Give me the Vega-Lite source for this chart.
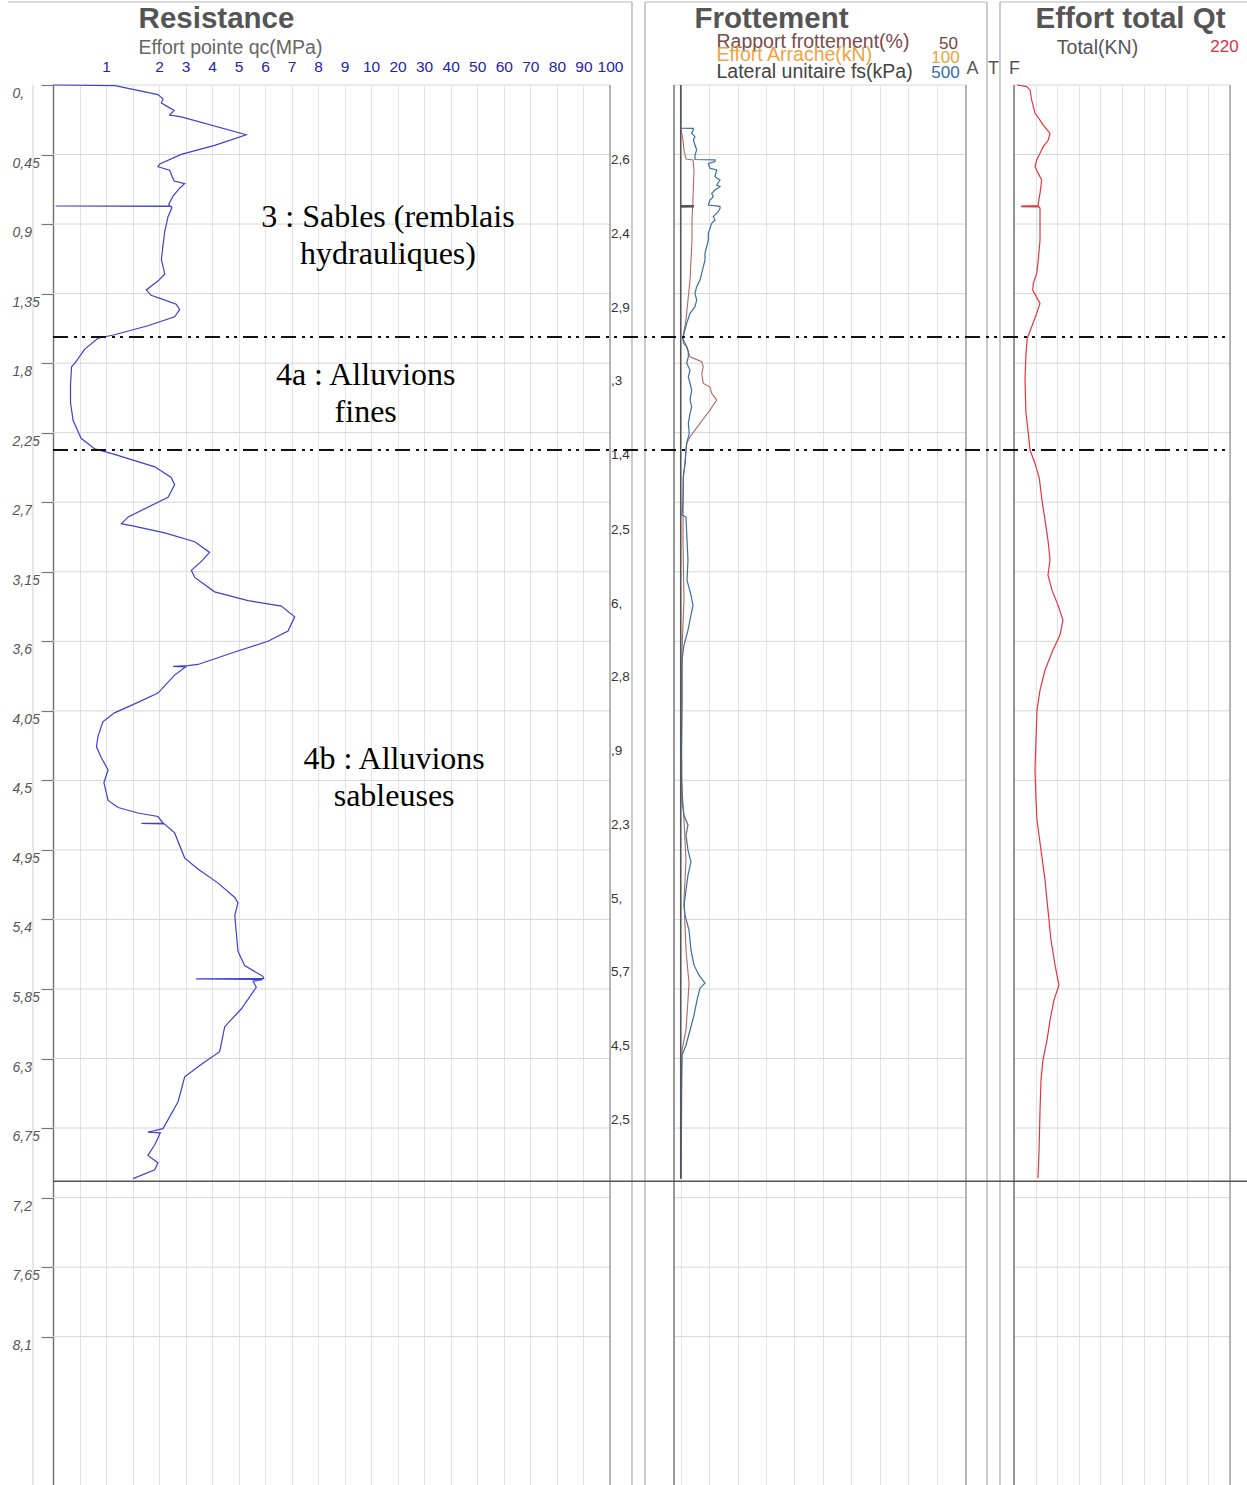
{
  "$schema": "https://vega.github.io/schema/vega-lite/v6.json",
  "width": 1194,
  "height": 1400,
  "autosize": {"type": "none"},
  "padding": {"left": 53, "top": 85, "right": 0, "bottom": 0},
  "background": "white",
  "config": {
    "view": {"stroke": null},
    "font": "Liberation Sans",
    "axis": {"labelFont": "Liberation Sans", "titleFont": "Liberation Sans"},
    "text": {"font": "Liberation Sans"}
  },
  "datasets": {
    "depthgrid": [
      {"depth": 0}, {"depth": 0.45}, {"depth": 0.9}, {"depth": 1.35}, {"depth": 1.8}, {"depth": 2.25}, {"depth": 2.7}, {"depth": 3.15}, {"depth": 3.6}, {"depth": 4.05}, {"depth": 4.5}, {"depth": 4.95}, {"depth": 5.4}, {"depth": 5.85}, {"depth": 6.3}, {"depth": 6.75}, {"depth": 7.2}, {"depth": 7.65}, {"depth": 8.1}
    ],
    "qc": [
      {"depth":0,"qc":0},{"depth":0.004,"qc":1.17},{"depth":0.062,"qc":1.98},{"depth":0.09,"qc":2.15},{"depth":0.117,"qc":2.09},{"depth":0.148,"qc":2.4},{"depth":0.164,"qc":2.57},{"depth":0.194,"qc":2.4},{"depth":0.206,"qc":2.84},{"depth":0.322,"qc":5.29},{"depth":0.391,"qc":4.1},{"depth":0.449,"qc":2.84},{"depth":0.511,"qc":2.03},{"depth":0.529,"qc":1.98},{"depth":0.552,"qc":2.4},{"depth":0.621,"qc":2.57},{"depth":0.638,"qc":2.97},{"depth":0.668,"qc":2.78},{"depth":0.719,"qc":2.53},{"depth":0.772,"qc":2.37},{"depth":0.782,"qc":2.4},{"depth":0.783,"qc":0.05},{"depth":0.786,"qc":2.45},{"depth":0.795,"qc":2.49},{"depth":0.852,"qc":2.34},{"depth":0.945,"qc":2.22},{"depth":1.038,"qc":2.15},{"depth":1.13,"qc":2.09},{"depth":1.223,"qc":2.22},{"depth":1.269,"qc":1.98},{"depth":1.326,"qc":1.76},{"depth":1.361,"qc":1.85},{"depth":1.384,"qc":2.09},{"depth":1.419,"qc":2.65},{"depth":1.454,"qc":2.78},{"depth":1.5,"qc":2.59},{"depth":1.558,"qc":1.79},{"depth":1.616,"qc":1.16},{"depth":1.639,"qc":0.85},{"depth":1.709,"qc":0.6},{"depth":1.801,"qc":0.41},{"depth":1.824,"qc":0.35},{"depth":1.939,"qc":0.33},{"depth":2.055,"qc":0.33},{"depth":2.171,"qc":0.38},{"depth":2.286,"qc":0.53},{"depth":2.355,"qc":0.79},{"depth":2.39,"qc":1.16},{"depth":2.471,"qc":1.92},{"depth":2.54,"qc":2.46},{"depth":2.587,"qc":2.59},{"depth":2.668,"qc":2.34},{"depth":2.795,"qc":1.42},{"depth":2.84,"qc":1.29},{"depth":2.852,"qc":1.48},{"depth":2.898,"qc":2.22},{"depth":2.956,"qc":3.35},{"depth":3.025,"qc":3.91},{"depth":3.083,"qc":3.6},{"depth":3.141,"qc":3.22},{"depth":3.187,"qc":3.35},{"depth":3.28,"qc":4.1},{"depth":3.337,"qc":5.36},{"depth":3.372,"qc":6.62},{"depth":3.442,"qc":7.12},{"depth":3.534,"qc":6.87},{"depth":3.6,"qc":6.11},{"depth":3.669,"qc":4.86},{"depth":3.75,"qc":3.47},{"depth":3.758,"qc":3.1},{"depth":3.762,"qc":2.53},{"depth":3.766,"qc":3.0},{"depth":3.819,"qc":2.59},{"depth":3.935,"qc":1.98},{"depth":4.005,"qc":1.54},{"depth":4.063,"qc":1.16},{"depth":4.121,"qc":0.94},{"depth":4.214,"qc":0.85},{"depth":4.283,"qc":0.82},{"depth":4.352,"qc":0.91},{"depth":4.433,"qc":1.04},{"depth":4.514,"qc":0.96},{"depth":4.63,"qc":1.04},{"depth":4.676,"qc":1.23},{"depth":4.711,"qc":1.6},{"depth":4.734,"qc":1.98},{"depth":4.776,"qc":2.15},{"depth":4.778,"qc":1.67},{"depth":4.781,"qc":2.2},{"depth":4.84,"qc":2.59},{"depth":5.003,"qc":2.97},{"depth":5.073,"qc":3.47},{"depth":5.165,"qc":4.23},{"depth":5.258,"qc":4.86},{"depth":5.293,"qc":4.98},{"depth":5.374,"qc":4.86},{"depth":5.606,"qc":4.98},{"depth":5.699,"qc":5.23},{"depth":5.768,"qc":5.92},{"depth":5.783,"qc":5.95},{"depth":5.785,"qc":3.4},{"depth":5.789,"qc":5.9},{"depth":5.8,"qc":5.55},{"depth":5.839,"qc":5.67},{"depth":5.978,"qc":5.11},{"depth":6.094,"qc":4.48},{"depth":6.256,"qc":4.29},{"depth":6.337,"qc":3.6},{"depth":6.418,"qc":2.97},{"depth":6.58,"qc":2.72},{"depth":6.754,"qc":2.15},{"depth":6.777,"qc":1.79},{"depth":6.781,"qc":2.05},{"depth":6.858,"qc":1.92},{"depth":6.927,"qc":1.79},{"depth":6.974,"qc":1.98},{"depth":7.02,"qc":1.92},{"depth":7.077,"qc":1.51}
    ],
    "fs": [
      {"depth":0,"fs":0},{"depth":0.279,"fs":0},{"depth":0.281,"fs":22.2},{"depth":0.291,"fs":22.2},{"depth":0.313,"fs":19.3},{"depth":0.334,"fs":25.1},{"depth":0.356,"fs":22.2},{"depth":0.388,"fs":25.1},{"depth":0.421,"fs":28.1},{"depth":0.453,"fs":25.1},{"depth":0.482,"fs":25.1},{"depth":0.484,"fs":60.3},{"depth":0.496,"fs":60.3},{"depth":0.507,"fs":48.6},{"depth":0.539,"fs":51.5},{"depth":0.55,"fs":63.3},{"depth":0.593,"fs":60.3},{"depth":0.615,"fs":69.1},{"depth":0.647,"fs":63.3},{"depth":0.658,"fs":69.1},{"depth":0.68,"fs":60.3},{"depth":0.701,"fs":54.5},{"depth":0.723,"fs":57.4},{"depth":0.744,"fs":51.5},{"depth":0.777,"fs":48.6},{"depth":0.785,"fs":69.1},{"depth":0.798,"fs":69.1},{"depth":0.82,"fs":66.1},{"depth":0.852,"fs":57.4},{"depth":0.874,"fs":60.3},{"depth":0.895,"fs":54.5},{"depth":0.928,"fs":51.5},{"depth":0.96,"fs":48.6},{"depth":1.003,"fs":48.6},{"depth":1.046,"fs":45.7},{"depth":1.09,"fs":42.7},{"depth":1.133,"fs":42.7},{"depth":1.176,"fs":39.8},{"depth":1.219,"fs":36.9},{"depth":1.262,"fs":33.9},{"depth":1.305,"fs":28.1},{"depth":1.348,"fs":25.1},{"depth":1.392,"fs":28.1},{"depth":1.435,"fs":25.1},{"depth":1.478,"fs":16.4},{"depth":1.543,"fs":10.5},{"depth":1.607,"fs":5.8},{"depth":1.64,"fs":3.5},{"depth":1.672,"fs":7.6},{"depth":1.694,"fs":10.5},{"depth":1.726,"fs":13.4},{"depth":1.759,"fs":13.4},{"depth":1.801,"fs":10.5},{"depth":1.845,"fs":16.4},{"depth":1.888,"fs":13.4},{"depth":1.931,"fs":16.4},{"depth":1.974,"fs":19.3},{"depth":2.039,"fs":16.4},{"depth":2.082,"fs":19.3},{"depth":2.125,"fs":16.4},{"depth":2.19,"fs":13.4},{"depth":2.254,"fs":15.1},{"depth":2.319,"fs":10.5},{"depth":2.362,"fs":9.3},{"depth":2.449,"fs":7.6},{"depth":2.535,"fs":4.6},{"depth":2.686,"fs":4.0},{"depth":2.783,"fs":2.3},{"depth":2.796,"fs":9.3},{"depth":2.945,"fs":11.1},{"depth":3.074,"fs":12.8},{"depth":3.204,"fs":11.1},{"depth":3.301,"fs":18.1},{"depth":3.366,"fs":21.6},{"depth":3.43,"fs":18.1},{"depth":3.528,"fs":12.8},{"depth":3.625,"fs":5.8},{"depth":3.722,"fs":2.3},{"depth":3.981,"fs":2.3},{"depth":4.304,"fs":1.4},{"depth":4.628,"fs":2.3},{"depth":4.725,"fs":5.8},{"depth":4.79,"fs":12.8},{"depth":4.854,"fs":9.3},{"depth":4.951,"fs":12.8},{"depth":5.029,"fs":18.1},{"depth":5.113,"fs":12.8},{"depth":5.21,"fs":9.3},{"depth":5.307,"fs":5.8},{"depth":5.372,"fs":7.6},{"depth":5.469,"fs":14.6},{"depth":5.599,"fs":18.1},{"depth":5.696,"fs":23.4},{"depth":5.761,"fs":32.2},{"depth":5.812,"fs":42.7},{"depth":5.845,"fs":33.9},{"depth":5.922,"fs":28.7},{"depth":6.019,"fs":23.4},{"depth":6.117,"fs":16.4},{"depth":6.214,"fs":9.3},{"depth":6.278,"fs":2.3},{"depth":6.44,"fs":1.4},{"depth":6.699,"fs":1.4},{"depth":7.074,"fs":0.5}
    ],
    "rf": [
      {"depth":0,"rf":0},{"depth":0.278,"rf":0},{"depth":0.356,"rf":0.4},{"depth":0.421,"rf":0.58},{"depth":0.479,"rf":0.93},{"depth":0.485,"rf":2.16},{"depth":0.55,"rf":2.34},{"depth":0.647,"rf":2.25},{"depth":0.744,"rf":2.16},{"depth":0.874,"rf":1.99},{"depth":1.003,"rf":1.99},{"depth":1.133,"rf":1.81},{"depth":1.262,"rf":1.64},{"depth":1.392,"rf":1.28},{"depth":1.521,"rf":0.93},{"depth":1.631,"rf":0.4},{"depth":1.672,"rf":0.46},{"depth":1.694,"rf":1.06},{"depth":1.759,"rf":1.64},{"depth":1.791,"rf":3.69},{"depth":1.823,"rf":3.97},{"depth":1.866,"rf":3.69},{"depth":1.931,"rf":3.97},{"depth":1.953,"rf":5.15},{"depth":1.995,"rf":5.45},{"depth":2.039,"rf":6.33},{"depth":2.071,"rf":5.73},{"depth":2.104,"rf":5.15},{"depth":2.147,"rf":4.27},{"depth":2.19,"rf":3.39},{"depth":2.233,"rf":2.51},{"depth":2.276,"rf":1.64},{"depth":2.319,"rf":1.06},{"depth":2.362,"rf":0.93},{"depth":2.449,"rf":0.76},{"depth":2.535,"rf":0.46},{"depth":2.945,"rf":0.4},{"depth":3.333,"rf":0.58},{"depth":3.657,"rf":0.23},{"depth":4.498,"rf":0.14},{"depth":4.757,"rf":0.58},{"depth":5.016,"rf":0.93},{"depth":5.275,"rf":0.58},{"depth":5.599,"rf":0.93},{"depth":5.812,"rf":1.46},{"depth":5.922,"rf":1.28},{"depth":6.117,"rf":0.93},{"depth":6.246,"rf":0.23},{"depth":7.074,"rf":0.05}
    ],
    "arr": [
      {"depth":0,"arr":0},{"depth":0.781,"arr":0},{"depth":0.782,"arr":4.4},{"depth":0.788,"arr":4.4},{"depth":0.789,"arr":0},{"depth":7.08,"arr":0}
    ],
    "qt": [
      {"depth":0,"qt":3},{"depth":0.01,"qt":13},{"depth":0.032,"qt":16.3},{"depth":0.097,"qt":18},{"depth":0.183,"qt":21.4},{"depth":0.227,"qt":26.5},{"depth":0.259,"qt":29.8},{"depth":0.313,"qt":36.7},{"depth":0.356,"qt":34.9},{"depth":0.399,"qt":29.8},{"depth":0.442,"qt":26.5},{"depth":0.485,"qt":23.1},{"depth":0.529,"qt":21.4},{"depth":0.572,"qt":24.7},{"depth":0.615,"qt":28.2},{"depth":0.701,"qt":26.5},{"depth":0.766,"qt":24.7},{"depth":0.781,"qt":24.7},{"depth":0.783,"qt":7.8},{"depth":0.787,"qt":7.8},{"depth":0.789,"qt":25.5},{"depth":0.798,"qt":26.5},{"depth":0.874,"qt":26.5},{"depth":1.003,"qt":26.5},{"depth":1.133,"qt":24.7},{"depth":1.219,"qt":23.1},{"depth":1.283,"qt":19.7},{"depth":1.327,"qt":19},{"depth":1.413,"qt":26.5},{"depth":1.478,"qt":23.1},{"depth":1.564,"qt":18},{"depth":1.64,"qt":13.5},{"depth":1.737,"qt":12.2},{"depth":1.909,"qt":11.2},{"depth":2.125,"qt":12.2},{"depth":2.254,"qt":14.6},{"depth":2.362,"qt":16.3},{"depth":2.449,"qt":21.4},{"depth":2.546,"qt":25.8},{"depth":2.686,"qt":28.5},{"depth":2.816,"qt":31.6},{"depth":2.945,"qt":34.6},{"depth":3.074,"qt":36.7},{"depth":3.172,"qt":34.6},{"depth":3.269,"qt":38.7},{"depth":3.366,"qt":44.8},{"depth":3.463,"qt":49.9},{"depth":3.56,"qt":46.8},{"depth":3.657,"qt":39.7},{"depth":3.786,"qt":31.6},{"depth":3.916,"qt":26.5},{"depth":4.045,"qt":23.4},{"depth":4.239,"qt":22.4},{"depth":4.434,"qt":21.4},{"depth":4.628,"qt":22.4},{"depth":4.757,"qt":23.4},{"depth":4.951,"qt":27.5},{"depth":5.146,"qt":31.6},{"depth":5.34,"qt":34.6},{"depth":5.534,"qt":37.7},{"depth":5.696,"qt":41.8},{"depth":5.825,"qt":45.8},{"depth":5.922,"qt":40.7},{"depth":6.052,"qt":36.7},{"depth":6.181,"qt":33.6},{"depth":6.311,"qt":29.5},{"depth":6.44,"qt":27.5},{"depth":6.634,"qt":26.5},{"depth":6.893,"qt":25.5},{"depth":7.074,"qt":24.4}
    ],
    "rlabels": [
      {"depth":0.485,"lab":"2,6"},{"depth":0.964,"lab":"2,4"},{"depth":1.443,"lab":"2,9"},{"depth":1.916,"lab":",3"},{"depth":2.395,"lab":"1,4"},{"depth":2.88,"lab":"2,5"},{"depth":3.359,"lab":"6,"},{"depth":3.832,"lab":"2,8"},{"depth":4.311,"lab":",9"},{"depth":4.79,"lab":"2,3"},{"depth":5.269,"lab":"5,"},{"depth":5.741,"lab":"5,7"},{"depth":6.22,"lab":"4,5"},{"depth":6.699,"lab":"2,5"}
    ],
    "annot": [
      {"txt":["3 : Sables (remblais","hydrauliques)"],"depth":0.919,"qc":16.4},
      {"txt":["4a : Alluvions","fines"],"depth":1.942,"qc":9.8},
      {"txt":["4b : Alluvions","sableuses"],"depth":4.427,"qc":18.7}
    ],
    "bounds": [{"depth":1.631},{"depth":2.362}],
    "endtest": [{"depth":7.094}],
    "cols": [{"col":"A"},{"col":"T"},{"col":"F"}]
  },
  "layer": [
    {
      "data": {"name": "depthgrid"},
      "mark": {"type": "rule", "color": "#d6d6d6", "strokeWidth": 1},
      "encoding": {
        "x": {"datum": 0, "type": "quantitative", "scale": {"domain": [0, 1], "range": [0, 557], "nice": false, "zero": false},
          "axis": {"orient": "top", "title": "Resistance", "labels": false, "ticks": false, "tickSize": 0, "domain": false, "grid": false,
            "titleFontSize": 29.5, "titleFontWeight": "bold", "titleColor": "#555555", "titleX": 163, "titleY": -67, "titleAlign": "center", "titleBaseline": "middle"}},
        "x2": {"datum": 1},
        "y": {"field": "depth", "type": "quantitative", "scale": {"domain": [0, 9.06], "reverse": true, "nice": false, "zero": false},
          "axis": {"orient": "left", "values": [0, 0.45, 0.9, 1.35, 1.8, 2.25, 2.7, 3.15, 3.6, 4.05, 4.5, 4.95, 5.4, 5.85, 6.3, 6.75, 7.2, 7.65, 8.1],
            "labelExpr": "datum.value == 0 ? '0,' : replace(format(datum.value, '.2~f'), '.', ',')",
            "title": null, "grid": false, "domain": true, "domainColor": "#6e6e6e", "domainWidth": 1.4,
            "ticks": true, "tickSize": 12, "tickColor": "#777777", "tickWidth": 1.2,
            "labelAlign": "left", "labelBaseline": "top", "labelPadding": 29, "labelOffset": 1.5, "labelOverlap": false,
            "labelFontStyle": "italic", "labelFontSize": 14, "labelColor": "#555555"}}
      }
    },
    {
      "data": {"name": "depthgrid"},
      "mark": {"type": "rule", "color": "#d6d6d6", "strokeWidth": 1},
      "encoding": {
        "x": {"datum": 0, "type": "quantitative", "scale": {"domain": [0, 1], "range": [621, 913], "nice": false, "zero": false},
          "axis": {"orient": "top", "title": "Frottement", "labels": false, "ticks": false, "tickSize": 0, "domain": false, "grid": false,
            "titleFontSize": 29.5, "titleFontWeight": "bold", "titleColor": "#555555", "titleX": 718, "titleY": -67, "titleAlign": "center", "titleBaseline": "middle"}},
        "x2": {"datum": 1},
        "y": {"field": "depth", "type": "quantitative"}
      }
    },
    {
      "data": {"name": "depthgrid"},
      "mark": {"type": "rule", "color": "#d6d6d6", "strokeWidth": 1},
      "encoding": {
        "x": {"datum": 0, "type": "quantitative", "scale": {"domain": [0, 1], "range": [961, 1177], "nice": false, "zero": false},
          "axis": {"orient": "top", "title": "Effort total Qt", "labels": false, "ticks": false, "tickSize": 0, "domain": false, "grid": false,
            "titleFontSize": 29.5, "titleFontWeight": "bold", "titleColor": "#555555", "titleX": 1077, "titleY": -67, "titleAlign": "center", "titleBaseline": "middle"}},
        "x2": {"datum": 1},
        "y": {"field": "depth", "type": "quantitative"}
      }
    },
    {
      "layer": [
        {
          "data": {"values": [{}]},
          "mark": {"type": "rule", "color": "#d0d0d0", "strokeWidth": 1},
          "encoding": {
            "x": {"datum": -0.01675, "type": "quantitative", "scale": {"domain": [0, 1], "range": [0, 1194], "nice": false, "zero": false}, "axis": null},
            "y": {"datum": 0, "type": "quantitative"},
            "y2": {"datum": 9.06}
          }
        },
        {
          "data": {"values": [{}]},
          "mark": {"type": "rule", "color": "#8c8c8c", "strokeWidth": 1.2},
          "encoding": {"x": {"datum": 0.4665, "type": "quantitative"}, "y": {"datum": 0, "type": "quantitative"}, "y2": {"datum": 9.06}}
        },
        {
          "data": {"values": [{}]},
          "mark": {"type": "rule", "color": "#a8a8a8", "strokeWidth": 1.2},
          "encoding": {"x": {"datum": 0.48492, "type": "quantitative"}, "y": {"datum": -0.537, "type": "quantitative"}, "y2": {"datum": 9.06}}
        },
        {
          "data": {"values": [{}]},
          "mark": {"type": "rule", "color": "#a8a8a8", "strokeWidth": 1.2},
          "encoding": {"x": {"datum": 0.49581, "type": "quantitative"}, "y": {"datum": -0.537, "type": "quantitative"}, "y2": {"datum": 9.06}}
        },
        {
          "data": {"values": [{}]},
          "mark": {"type": "rule", "color": "#6e6e6e", "strokeWidth": 1.4},
          "encoding": {"x": {"datum": 0.5201, "type": "quantitative"}, "y": {"datum": 0, "type": "quantitative"}, "y2": {"datum": 9.06}}
        },
        {
          "data": {"values": [{}]},
          "mark": {"type": "rule", "color": "#8c8c8c", "strokeWidth": 1.2},
          "encoding": {"x": {"datum": 0.76466, "type": "quantitative"}, "y": {"datum": 0, "type": "quantitative"}, "y2": {"datum": 9.06}}
        },
        {
          "data": {"values": [{}]},
          "mark": {"type": "rule", "color": "#a8a8a8", "strokeWidth": 1.2},
          "encoding": {"x": {"datum": 0.78224, "type": "quantitative"}, "y": {"datum": -0.537, "type": "quantitative"}, "y2": {"datum": 9.06}}
        },
        {
          "data": {"values": [{}]},
          "mark": {"type": "rule", "color": "#a8a8a8", "strokeWidth": 1.2},
          "encoding": {"x": {"datum": 0.79313, "type": "quantitative"}, "y": {"datum": -0.537, "type": "quantitative"}, "y2": {"datum": 9.06}}
        },
        {
          "data": {"values": [{}]},
          "mark": {"type": "rule", "color": "#6e6e6e", "strokeWidth": 1.4},
          "encoding": {"x": {"datum": 0.80486, "type": "quantitative"}, "y": {"datum": 0, "type": "quantitative"}, "y2": {"datum": 9.06}}
        },
        {
          "data": {"values": [{}]},
          "mark": {"type": "rule", "color": "#8c8c8c", "strokeWidth": 1.2},
          "encoding": {"x": {"datum": 0.98576, "type": "quantitative"}, "y": {"datum": 0, "type": "quantitative"}, "y2": {"datum": 9.06}}
        },
        {
          "data": {"values": [{}]},
          "mark": {"type": "rule", "color": "#b8b8b8", "strokeWidth": 1.2},
          "encoding": {"x": {"datum": -0.03769, "type": "quantitative"}, "x2": {"datum": 0.48492}, "y": {"datum": -0.537, "type": "quantitative"}}
        },
        {
          "data": {"values": [{}]},
          "mark": {"type": "rule", "color": "#b8b8b8", "strokeWidth": 1.2},
          "encoding": {"x": {"datum": 0.49581, "type": "quantitative"}, "x2": {"datum": 0.78224}, "y": {"datum": -0.537, "type": "quantitative"}}
        },
        {
          "data": {"values": [{}]},
          "mark": {"type": "rule", "color": "#b8b8b8", "strokeWidth": 1.2},
          "encoding": {"x": {"datum": 0.79313, "type": "quantitative"}, "x2": {"datum": 1}, "y": {"datum": -0.537, "type": "quantitative"}}
        },
        {
          "data": {"name": "endtest"},
          "mark": {"type": "rule", "color": "#555555", "strokeWidth": 1.6},
          "encoding": {"x": {"datum": 0, "type": "quantitative"}, "x2": {"datum": 1}, "y": {"field": "depth", "type": "quantitative"}}
        }
      ]
    },
    {
      "data": {"name": "qc"},
      "mark": {"type": "line", "color": "#3f3fd0", "strokeWidth": 1.2, "interpolate": "linear"},
      "encoding": {
        "x": {"field": "qc", "type": "quantitative",
          "scale": {"domain": [0, 1, 2, 10, 100], "range": [0, 53, 106, 318, 557], "nice": false, "zero": false},
          "axis": {"orient": "top", "values": [0.5, 1, 1.5, 2, 3, 4, 5, 6, 7, 8, 9, 10, 20, 30, 40, 50, 60, 70, 80, 90, 100],
            "labelExpr": "(datum.value == 0.5 || datum.value == 1.5) ? '' : '' + datum.value",
            "grid": true, "gridColor": "#e2e2e2", "gridWidth": 1, "ticks": false, "tickSize": 0, "domain": false,
            "labelColor": "#2323b0", "labelFontSize": 15.5, "labelPadding": 19, "labelBaseline": "middle", "labelOverlap": false, "labelFlush": false,
            "title": "Effort pointe qc(MPa)", "titleColor": "#666666", "titleFontSize": 19.5, "titleFontWeight": "normal",
            "titleX": 85, "titleY": -38, "titleAlign": "left", "titleBaseline": "middle"}},
        "y": {"field": "depth", "type": "quantitative"},
        "order": {"field": "depth", "type": "quantitative"}
      }
    },
    {
      "data": {"name": "annot"},
      "mark": {"type": "text", "font": "Liberation Serif", "fontSize": 32, "color": "#000000", "align": "center", "baseline": "alphabetic", "lineHeight": 37},
      "encoding": {
        "x": {"field": "qc", "type": "quantitative", "scale": {"domain": [0, 1, 2, 10, 100], "range": [0, 53, 106, 318, 557], "nice": false, "zero": false}, "axis": null},
        "y": {"field": "depth", "type": "quantitative"},
        "text": {"field": "txt"}
      }
    },
    {
      "data": {"name": "rlabels"},
      "mark": {"type": "text", "fontSize": 13.5, "color": "#333333", "align": "left", "baseline": "middle", "dx": 1},
      "encoding": {
        "x": {"datum": 100, "type": "quantitative", "scale": {"domain": [0, 1, 2, 10, 100], "range": [0, 53, 106, 318, 557], "nice": false, "zero": false}, "axis": null},
        "y": {"field": "depth", "type": "quantitative"},
        "text": {"field": "lab"}
      }
    },
    {
      "data": {"name": "rf"},
      "mark": {"type": "line", "color": "#ad6a64", "strokeWidth": 1.1},
      "encoding": {
        "x": {"field": "rf", "type": "quantitative", "scale": {"domain": [0, 50], "range": [627.7, 912], "nice": false, "zero": false},
          "axis": {"orient": "top", "values": [0, 5, 10, 15, 20, 25, 30, 35, 40, 45, 50], "labelExpr": "datum.value == 50 ? '50' : ''",
            "grid": true, "gridColor": "#e2e2e2", "ticks": false, "tickSize": 0, "domain": false,
            "labelColor": "#7a4242", "labelFontSize": 17, "labelPadding": 42, "labelBaseline": "middle", "labelOffset": -17, "labelOverlap": false, "labelFlush": false,
            "title": "Rapport frottement(%)", "titleColor": "#7a4a48", "titleFontSize": 19.5, "titleFontWeight": "normal",
            "titleX": 663, "titleY": -44, "titleAlign": "left", "titleBaseline": "middle"}},
        "y": {"field": "depth", "type": "quantitative"},
        "order": {"field": "depth", "type": "quantitative"}
      }
    },
    {
      "data": {"name": "fs"},
      "mark": {"type": "line", "color": "#3a6f9c", "strokeWidth": 1.2},
      "encoding": {
        "x": {"field": "fs", "type": "quantitative", "scale": {"domain": [0, 500], "range": [627.7, 912], "nice": false, "zero": false},
          "axis": {"orient": "top", "values": [500], "grid": false, "ticks": false, "tickSize": 0, "domain": false,
            "labelColor": "#2e6db3", "labelFontSize": 17, "labelPadding": 13, "labelBaseline": "middle", "labelOffset": -20, "labelOverlap": false, "labelFlush": false,
            "title": "Lateral unitaire fs(kPa)", "titleColor": "#444444", "titleFontSize": 19.5, "titleFontWeight": "normal",
            "titleX": 663, "titleY": -14, "titleAlign": "left", "titleBaseline": "middle"}},
        "y": {"field": "depth", "type": "quantitative"},
        "order": {"field": "depth", "type": "quantitative"}
      }
    },
    {
      "data": {"name": "arr"},
      "mark": {"type": "line", "color": "#555555", "strokeWidth": 1.5},
      "encoding": {
        "x": {"field": "arr", "type": "quantitative", "scale": {"domain": [0, 100], "range": [627.7, 912], "nice": false, "zero": false},
          "axis": {"orient": "top", "values": [100], "grid": false, "ticks": false, "tickSize": 0, "domain": false,
            "labelColor": "#f0a13a", "labelFontSize": 17, "labelPadding": 28, "labelBaseline": "middle", "labelOffset": -20, "labelOverlap": false, "labelFlush": false,
            "title": "Effort Arrache(kN)", "titleColor": "#f0a340", "titleFontSize": 19.5, "titleFontWeight": "normal",
            "titleX": 663, "titleY": -31, "titleAlign": "left", "titleBaseline": "middle"}},
        "y": {"field": "depth", "type": "quantitative"},
        "order": {"field": "depth", "type": "quantitative"}
      }
    },
    {
      "data": {"name": "qt"},
      "mark": {"type": "line", "color": "#e4373d", "strokeWidth": 1.2},
      "encoding": {
        "x": {"field": "qt", "type": "quantitative", "scale": {"domain": [0, 220], "range": [961, 1177], "nice": false, "zero": false},
          "axis": {"orient": "top", "values": [0, 22, 44, 66, 88, 110, 132, 154, 176, 198, 220], "labelExpr": "datum.value == 220 ? '220' : ''",
            "grid": true, "gridColor": "#e2e2e2", "ticks": false, "tickSize": 0, "domain": false,
            "labelColor": "#e0303a", "labelFontSize": 17, "labelPadding": 39, "labelBaseline": "middle", "labelOffset": -6, "labelOverlap": false, "labelFlush": false,
            "title": "Total(KN)", "titleColor": "#555555", "titleFontSize": 19.5, "titleFontWeight": "normal",
            "titleX": 1044, "titleY": -38, "titleAlign": "center", "titleBaseline": "middle"}},
        "y": {"field": "depth", "type": "quantitative"},
        "order": {"field": "depth", "type": "quantitative"}
      }
    },
    {
      "data": {"name": "cols"},
      "mark": {"type": "point", "opacity": 0},
      "encoding": {
        "x": {"field": "col", "type": "nominal", "sort": null, "scale": {"type": "point", "domain": ["A", "T", "F"], "range": [919, 961], "padding": 0},
          "axis": {"orient": "top", "title": null, "ticks": false, "tickSize": 0, "domain": false, "grid": false, "labelAngle": 0,
            "labelColor": "#555555", "labelFontSize": 18, "labelPadding": 17, "labelBaseline": "middle", "labelOverlap": false}},
        "y": {"datum": 0, "type": "quantitative"}
      }
    },
    {
      "data": {"name": "bounds"},
      "mark": {"type": "rule", "color": "#111111", "strokeWidth": 2, "strokeDash": [15, 6, 3, 5, 3, 6]},
      "encoding": {
        "x": {"datum": 0, "type": "quantitative", "scale": {"domain": [0, 1], "range": [0, 1194], "nice": false, "zero": false}, "axis": null},
        "x2": {"datum": 0.98576},
        "y": {"field": "depth", "type": "quantitative"}
      }
    }
  ],
  "resolve": {"scale": {"x": "independent"}, "axis": {"x": "independent"}}
}
